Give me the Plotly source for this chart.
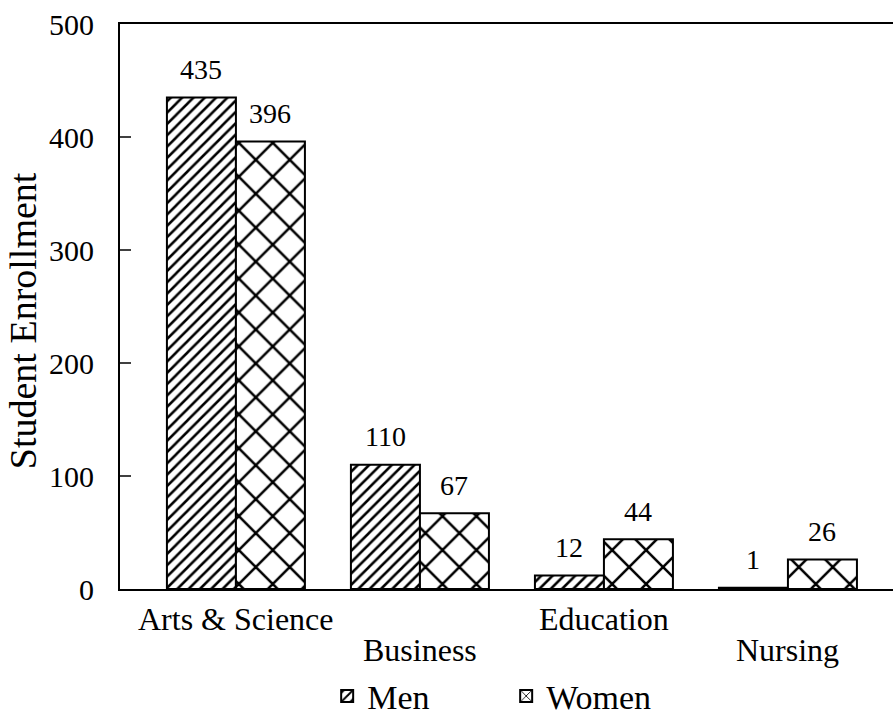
import plotly.graph_objects as go

categories = ["Arts & Science", "Business", "Education", "Nursing"]
men = [435, 110, 12, 1]
women = [396, 67, 44, 26]
y_tick_vals = [0, 100, 200, 300, 400, 500]
y_tick_text = ["0", "100", "200", "300", "400", "500"]
label_row = [0, 1, 0, 1]  # staggered category labels
y_title = "Student Enrollment"

FONT = "Liberation Serif"

fig = go.Figure()
fig.add_bar(
    x=categories, y=men, name="Men",
    marker=dict(color="white", line=dict(color="black", width=2),
                pattern=dict(shape="/", fgcolor="black", bgcolor="white", size=8,
                             solidity=0.32, fgopacity=1)),
)
fig.add_bar(
    x=categories, y=women, name="Women",
    marker=dict(color="white", line=dict(color="black", width=2),
                pattern=dict(shape="x", fgcolor="black", bgcolor="white", size=24,
                             solidity=0.2, fgopacity=1)),
)

annotations = []
for vals, shift in ((men, -34.5), (women, 34.5)):
    for c, v in zip(categories, vals):
        annotations.append(dict(x=c, y=v, xref="x", yref="y", text=str(v), showarrow=False,
                                xshift=shift, yshift=28, yanchor="middle",
                                font=dict(family=FONT, size=28, color="black")))
for c, r in zip(categories, label_row):
    annotations.append(dict(x=c, y=0, xref="x", yref="y", text=c, showarrow=False,
                            yshift=-30 - 31 * r, yanchor="middle",
                            font=dict(family=FONT, size=32, color="black")))
annotations.append(dict(x=0, y=0.474, xref="paper", yref="paper", text=y_title, showarrow=False,
                        textangle=-90, xshift=-97, xanchor="center", yanchor="middle",
                        font=dict(family=FONT, size=38, color="black")))

# inside tick marks on the y axis, placed at the tick values through the y scale
tick_shapes = [dict(type="line", xref="paper", yref="y", x0=0, x1=11 / 773, y0=v, y1=v,
                    line=dict(color="black", width=1.5), layer="above")
               for v in y_tick_vals[1:-1]]

fig.update_layout(
    width=893, height=715,
    margin=dict(l=120, r=0, t=24, b=126, autoexpand=False),
    paper_bgcolor="white", plot_bgcolor="white",
    barmode="group", bargap=0.25, bargroupgap=0,
    font=dict(family=FONT, color="black"),
    showlegend=True,
    legend=dict(orientation="h", x=0.268, xanchor="left", y=-0.19, yanchor="middle",
                font=dict(family=FONT, size=34, color="black"), entrywidth=134,
                entrywidthmode="pixels", bgcolor="rgba(0,0,0,0)"),
    annotations=annotations,
    shapes=tick_shapes,
)
fig.update_xaxes(type="category", range=[-0.63, 3.571], showticklabels=False, ticks="",
                 showline=True, linecolor="black", linewidth=2, mirror=True, showgrid=False,
                 zeroline=False, automargin=False)
fig.update_yaxes(range=[0, 500], tickvals=y_tick_vals, ticktext=y_tick_text, ticks="",
                 showline=True, linecolor="black",
                 linewidth=2, showgrid=False, zeroline=False, mirror=False, automargin=False,
                 tickfont=dict(family=FONT, size=30, color="black"), ticklabelstandoff=18)

fig.write_html("out.html", config={"displayModeBar": False},
               post_script="document.body.style.margin='0';document.body.style.overflow='hidden';")
